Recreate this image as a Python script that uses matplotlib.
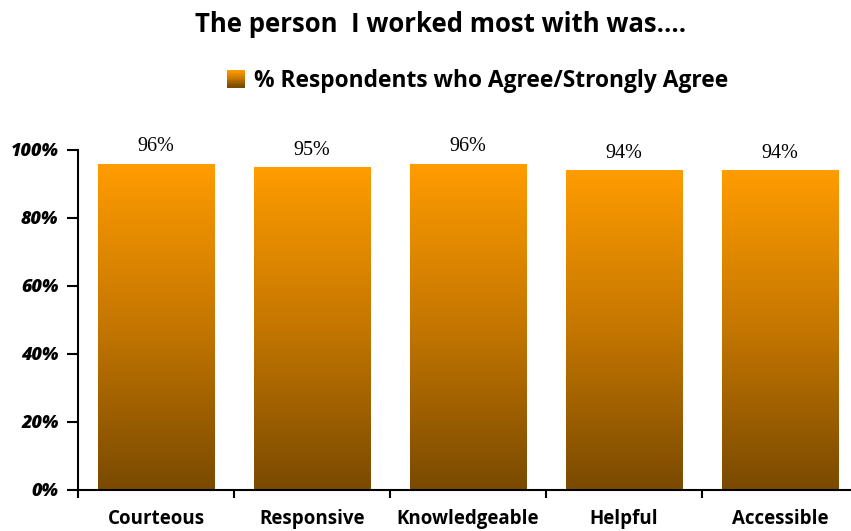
import numpy as np
import matplotlib
matplotlib.use("Agg")
import matplotlib.pyplot as plt
from matplotlib.colors import LinearSegmentedColormap
from matplotlib.patches import Rectangle
from matplotlib.legend_handler import HandlerBase

categories = ["Courteous", "Responsive", "Knowledgeable", "Helpful", "Accessible"]
values = [96, 95, 96, 94, 94]
value_labels = ["96%", "95%", "96%", "94%", "94%"]
yticks = [0, 20, 40, 60, 80, 100]
ytick_labels = ["0%", "20%", "40%", "60%", "80%", "100%"]
series_name = "% Respondents who Agree/Strongly Agree"
title = "The person  I worked most with was…."

W, H = 851, 531
fig = plt.figure(figsize=(W / 100, H / 100), dpi=100)
ax = fig.add_axes([78 / W, 1 - 490 / H, 780 / W, 340 / H])

cmap = LinearSegmentedColormap.from_list("g", ["#7A4A00", "#C47600", "#FF9C00"])
grad = np.linspace(0, 1, 256).reshape(-1, 1)

x = np.arange(len(categories))
bars = ax.bar(x, values, width=0.75, color="none", edgecolor="none")
for b in bars:
    x0, w, h = b.get_x(), b.get_width(), b.get_height()
    im = ax.imshow(grad, cmap=cmap, origin="lower", aspect="auto",
                   extent=[x0, x0 + w, 0, h], zorder=2)
    rect = Rectangle((x0, 0), w, h, transform=ax.transData, facecolor="none")
    ax.add_patch(rect)
    im.set_clip_path(rect)

for xi, v, lab in zip(x, values, value_labels):
    ax.text(xi, v + 2.2, lab, ha="center", va="bottom",
            fontsize=14.5, family="Liberation Serif")

ax.set_xlim(-0.5, len(categories) - 0.5)
ax.set_ylim(0, 100)

ax.set_yticks(yticks)
ax.set_yticklabels(ytick_labels, fontsize=13, fontweight=800,
                   fontstyle="italic", family="Open Sans")
ax.tick_params(axis="y", direction="out", length=8, width=1.5, pad=6)

ax.set_xticks(x)
ax.set_xticklabels(categories, fontsize=13.5, fontweight="bold", family="Open Sans")
ax.tick_params(axis="x", which="major", length=0, pad=14)
ax.set_xticks(np.arange(len(categories) + 1) - 0.5, minor=True)
ax.tick_params(axis="x", which="minor", direction="out", length=6, width=1.5)

for s in ["top", "right"]:
    ax.spines[s].set_visible(False)
for s in ["left", "bottom"]:
    ax.spines[s].set_linewidth(1.5)

fig.text(441 / W, 1 - 25 / H, title, ha="center", va="center",
         fontsize=18.5, fontweight="bold", family="Open Sans")


class GradHandler(HandlerBase):
    def create_artists(self, legend, orig_handle, xdescent, ydescent,
                       width, height, fontsize, trans):
        n = 12
        arts = []
        side = height * 1.1
        x0 = xdescent + width - side
        cols = cmap(np.linspace(1, 0, n))
        for i in range(n):
            r = Rectangle((x0, -ydescent + side * (n - 1 - i) / n - 0.5),
                          side, side / n + 0.3, facecolor=cols[i],
                          edgecolor="none", transform=trans)
            arts.append(r)
        return arts


handle = Rectangle((0, 0), 1, 1)
leg = fig.legend([handle], [series_name], handler_map={Rectangle: GradHandler()},
                 loc="center", bbox_to_anchor=(475 / W, 1 - 81 / H),
                 frameon=False, handlelength=1.0, handletextpad=0.4,
                 prop={"family": "Open Sans", "weight": "bold", "size": 16.4})

fig.savefig("out.png", dpi=100)
